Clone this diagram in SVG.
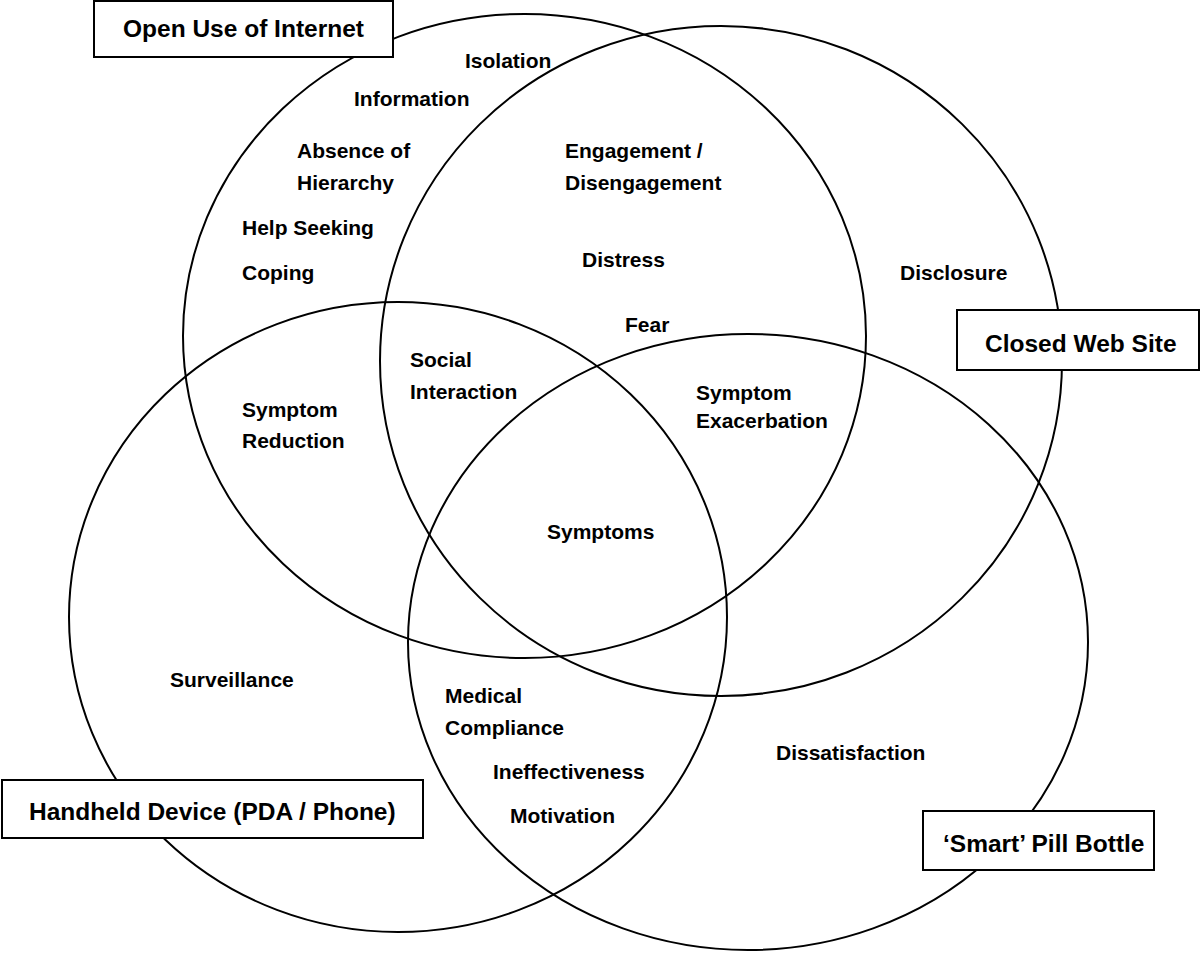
<svg xmlns="http://www.w3.org/2000/svg" width="1200" height="954" viewBox="0 0 1200 954">
  <style>
    .set { fill: none; stroke: #000; stroke-width: 2; }
    .box { fill: #fff; stroke: #000; stroke-width: 2; }
    .title { font-family: "Liberation Sans", Arial, Helvetica, sans-serif; font-weight: bold; font-size: 24.5px; fill: #000; }
    .lbl { font-family: "Liberation Sans", Arial, Helvetica, sans-serif; font-weight: bold; font-size: 21px; fill: #000; }
  </style>
  <rect x="0" y="0" width="1200" height="954" fill="#fff"/>
  <g id="connectors"></g>
  <g id="sets">
    <ellipse id="set-open" class="set" cx="524.5" cy="336" rx="341.5" ry="322"/>
    <ellipse id="set-closed" class="set" cx="721" cy="361" rx="341" ry="335"/>
    <ellipse id="set-handheld" class="set" cx="398" cy="617" rx="329" ry="315"/>
    <ellipse id="set-pill" class="set" cx="748" cy="642" rx="340" ry="308"/>
  </g>
  <g id="node-open-use">
    <rect class="box" x="94" y="1" width="299" height="56"/>
    <text class="title" x="123" y="37">Open Use of Internet</text>
  </g>
  <g id="node-closed-web">
    <rect class="box" x="957" y="310" width="242" height="60"/>
    <text class="title" x="985" y="352">Closed Web Site</text>
  </g>
  <g id="node-handheld">
    <rect class="box" x="2" y="780" width="421" height="58"/>
    <text class="title" x="29" y="820">Handheld Device (PDA / Phone)</text>
  </g>
  <g id="node-pill">
    <rect class="box" x="923" y="811" width="231" height="59"/>
    <text class="title" x="943" y="852">‘Smart’ Pill Bottle</text>
  </g>
  <g id="node-isolation"><text class="lbl" x="465" y="68">Isolation</text></g>
  <g id="node-information"><text class="lbl" x="354" y="106">Information</text></g>
  <g id="node-absence"><text class="lbl" x="297" y="158">Absence of</text><text class="lbl" x="297" y="190">Hierarchy</text></g>
  <g id="node-help"><text class="lbl" x="242" y="235">Help Seeking</text></g>
  <g id="node-coping"><text class="lbl" x="242" y="280">Coping</text></g>
  <g id="node-engagement"><text class="lbl" x="565" y="158">Engagement /</text><text class="lbl" x="565" y="190">Disengagement</text></g>
  <g id="node-distress"><text class="lbl" x="582" y="267">Distress</text></g>
  <g id="node-disclosure"><text class="lbl" x="900" y="280">Disclosure</text></g>
  <g id="node-fear"><text class="lbl" x="625" y="332">Fear</text></g>
  <g id="node-social"><text class="lbl" x="410" y="367">Social</text><text class="lbl" x="410" y="399">Interaction</text></g>
  <g id="node-symptom-reduction"><text class="lbl" x="242" y="417">Symptom</text><text class="lbl" x="242" y="448">Reduction</text></g>
  <g id="node-symptom-exacerbation"><text class="lbl" x="696" y="400">Symptom</text><text class="lbl" x="696" y="428">Exacerbation</text></g>
  <g id="node-symptoms"><text class="lbl" x="547" y="539">Symptoms</text></g>
  <g id="node-surveillance"><text class="lbl" x="170" y="687">Surveillance</text></g>
  <g id="node-medical"><text class="lbl" x="445" y="703">Medical</text><text class="lbl" x="445" y="735">Compliance</text></g>
  <g id="node-dissatisfaction"><text class="lbl" x="776" y="760">Dissatisfaction</text></g>
  <g id="node-ineffectiveness"><text class="lbl" x="493" y="779">Ineffectiveness</text></g>
  <g id="node-motivation"><text class="lbl" x="510" y="823">Motivation</text></g>
</svg>
